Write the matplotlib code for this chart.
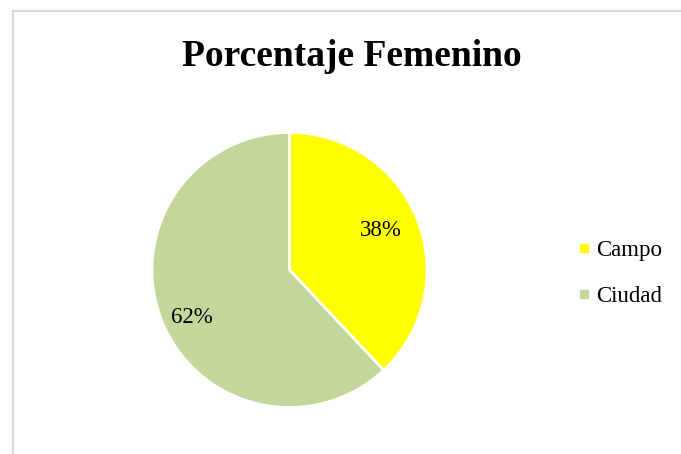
import matplotlib.pyplot as plt
from matplotlib.lines import Line2D

labels = ['Campo', 'Ciudad']
values = [38, 62]
colors = ['#FFFF00', '#C4D79B']

plt.rcParams['font.family'] = ['Liberation Serif', 'DejaVu Serif']

fig = plt.figure(figsize=(6.81, 4.54), dpi=100)

# light grey frame (left and top edge visible)
fig.add_artist(Line2D([12.5 / 681, 12.5 / 681], [0, 1 - 10.5 / 454], color='#D9D9D9', lw=1.5))
fig.add_artist(Line2D([12.5 / 681, 1], [1 - 10.5 / 454, 1 - 10.5 / 454], color='#D9D9D9', lw=1.5))

ax = fig.add_axes([152 / 681, 46 / 454, 275 / 681, 276 / 454])
wedges, texts, autotexts = ax.pie(values, colors=colors, startangle=90, counterclock=False,
                                  autopct='%1.0f%%', pctdistance=0.75,
                                  wedgeprops=dict(edgecolor='white', linewidth=2),
                                  textprops=dict(fontsize=16.5, color='black'))
# label placement as in the original
autotexts[0].set_position((0.665, 0.284))
autotexts[1].set_position((-0.709, -0.349))
ax.set_xlim(-1, 1)
ax.set_ylim(-1, 1)
ax.set_aspect('equal')

fig.text(352 / 681, 1 - 57 / 454, 'Porcentaje Femenino', ha='center', va='center',
         fontsize=27, fontweight='bold')

handles = [Line2D([], [], marker='s', linestyle='', markersize=6, color=c) for c in colors]
fig.legend(handles, labels, loc='center left', bbox_to_anchor=(556 / 681, 1 - 273.5 / 454),
           frameon=False, fontsize=16.5, handlelength=0.6, handletextpad=0.25, labelspacing=1.05)

fig.savefig('out.png', dpi=100)
